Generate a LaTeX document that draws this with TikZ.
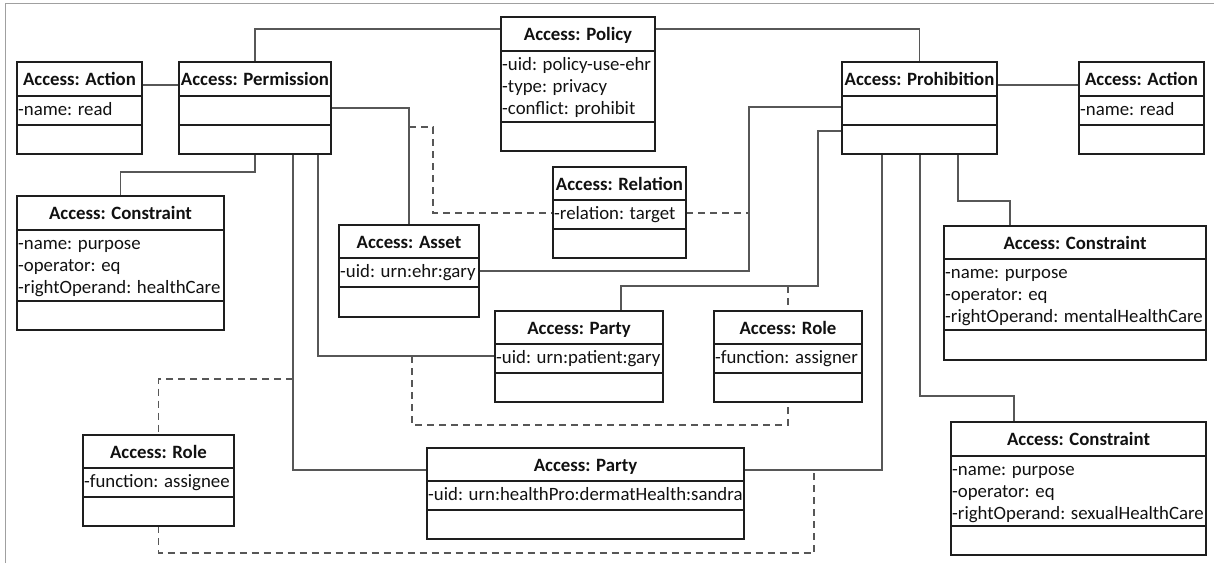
\documentclass[tikz,border=0pt]{standalone}
\usepackage{fontspec}
\setmainfont{Carlito}
\usetikzlibrary{calc,fit,backgrounds}

\definecolor{boxline}{HTML}{1E1E1E}
\definecolor{linkline}{HTML}{575757}
\definecolor{framegray}{HTML}{A0A0A0}
\definecolor{inkcol}{HTML}{111111}

% one line of an attribute compartment
\newcommand{\rowstrut}{\rule[-6.5pt]{0pt}{21.8pt}}

% UML object box: name, left, top, right, title divider, attribute divider, bottom, title, attributes
\newcommand{\umlclass}[9]{%
  \node[classframe, fit={(#2,#3) (#4,#7)}] (#1) {};
  \draw[classframe] (#2,#5) -- (#4,#5) (#2,#6) -- (#4,#6);
  \node[classtitle] (#1-title) at ({(#2+#4)/2},{#3+23}) {#8};
  \node[classattrs] (#1-attrs) at ({#2+1},{#5+4.2}) {#9};
}

\tikzset{
  classframe/.style={draw=boxline, line width=1.8pt, inner sep=0pt, outer sep=0pt},
  classtitle/.style={anchor=base, inner sep=0pt, text=inkcol,
    font=\bfseries\fontsize{18.8}{21.8}\selectfont},
  classattrs/.style={anchor=north west, inner sep=0pt, align=left, text=inkcol,
    font=\fontsize{18.8}{21.8}\selectfont},
  link/.style={draw=linkline, line width=1.3pt},
  assoclink/.style={draw=linkline, line width=1.3pt, dash pattern=on 7pt off 5pt},
}

\begin{document}
\begin{tikzpicture}[x=1pt, y=-1pt]
\useasboundingbox (0,0) rectangle (1214,563);

% page frame
\draw[framegray, line width=1pt] (5,563) -- (5,3.5) -- (1214,3.5);

% object boxes
\umlclass{actL}{17}{62}{142}{96}{125}{154}{Access: Action}{\rowstrut-name: read}
\umlclass{perm}{179}{62}{331}{96}{125}{154}{Access: Permission}{}
\umlclass{policy}{501}{17}{655}{51}{122}{151}{Access: Policy}
  {\rowstrut-uid: policy-use-ehr\\\rowstrut-type: privacy\\\rowstrut-conflict: prohibit}
\umlclass{prohib}{842}{62}{997}{96}{125}{154}{Access: Prohibition}{}
\umlclass{actR}{1079}{62}{1204}{96}{125}{154}{Access: Action}{\rowstrut-name: read}
\umlclass{consL}{17}{196}{224}{230}{301}{330}{Access: Constraint}
  {\rowstrut-name: purpose\\\rowstrut-operator: eq\\\rowstrut-rightOperand: healthCare}
\umlclass{relation}{553}{167}{686}{200}{229}{258}{Access: Relation}{\rowstrut-relation: target}
\umlclass{asset}{339}{225}{479}{258}{287}{317}{Access: Asset}{\rowstrut-uid: urn:ehr:gary}
\umlclass{partyG}{495}{311}{663}{344}{373}{402}{Access: Party}{\rowstrut-uid: urn:patient:gary}
\umlclass{roleA}{714}{311}{862}{344}{373}{402}{Access: Role}{\rowstrut-function: assigner}
\umlclass{consM}{944}{226}{1206}{259}{330}{360}{Access: Constraint}
  {\rowstrut-name: purpose\\\rowstrut-operator: eq\\\rowstrut-rightOperand: mentalHealthCare}
\umlclass{roleE}{83}{435}{234}{468}{497}{526}{Access: Role}{\rowstrut-function: assignee}
\umlclass{partyS}{427}{448}{744}{481}{510}{539}{Access: Party}{\rowstrut-uid: urn:healthPro:dermatHealth:sandra}
\umlclass{consS}{951}{422}{1206}{456}{526}{555}{Access: Constraint}
  {\rowstrut-name: purpose\\\rowstrut-operator: eq\\\rowstrut-rightOperand: sexualHealthCare}

% points on associations where the association classes attach
\coordinate (permAssetJ) at (409,127);
\coordinate (prohibAssetJ) at (749,213);
\coordinate (garyProhibJ) at (788,286);
\coordinate (garyPermJ) at (412,356);
\coordinate (sandraPermJ) at (293,379);
\coordinate (sandraProhibJ) at (814,470);

\begin{scope}[on background layer]
% associations
\draw[link] (perm.north) |- ($(policy.north west)+(0,12)$);
\draw[link] ($(policy.north east)+(0,12)$) -| (prohib.north);
\draw[link] ($(actL.north east)+(0,23)$) -- ($(perm.north west)+(0,23)$);
\draw[link] ($(prohib.north east)+(0,23)$) -- ($(actR.north west)+(0,23)$);
\draw[link] (perm.south) -- ++(0,18) -| (consL.north);
\draw[link] ($(perm.north east)+(0,46)$) -| (asset.north);
\draw[link] ($(asset.north east)+(0,46)$) -| (749,107) -- ($(prohib.north west)+(0,45)$);
\draw[link] ($(prohib.north west)+(0,69)$) -| (818,286) -| ($(partyG.north west)+(126,0)$);
\draw[link] ($(perm.south west)+(139,0)$) |- ($(partyG.north west)+(0,45)$);
\draw[link] ($(perm.south west)+(114,0)$) |- ($(partyS.north west)+(0,22)$);
\draw[link] ($(prohib.south west)+(40,0)$) |- ($(partyS.north east)+(0,22)$);
\draw[link] ($(prohib.south west)+(78,0)$) -- ++(0,242) -| ($(consS.north west)+(63,0)$);
\draw[link] ($(prohib.south west)+(116,0)$) -- ++(0,47) -| ($(consM.north west)+(66,0)$);

% association classes
\draw[assoclink] (permAssetJ) -| ($(relation.north west)+(-120,46)$) -- ($(relation.north west)+(0,46)$);
\draw[assoclink] ($(relation.north east)+(0,46)$) -- (prohibAssetJ);
\draw[assoclink] (garyProhibJ) -- (roleA.north);
\draw[assoclink] (garyPermJ) |- ($(roleA.south)+(0,23)$) -- (roleA.south);
\draw[assoclink] (sandraPermJ) -| (roleE.north);
\draw[assoclink] (roleE.south) |- ($(sandraProhibJ)+(0,83)$) -- (sandraProhibJ);
\end{scope}
\end{tikzpicture}
\end{document}
